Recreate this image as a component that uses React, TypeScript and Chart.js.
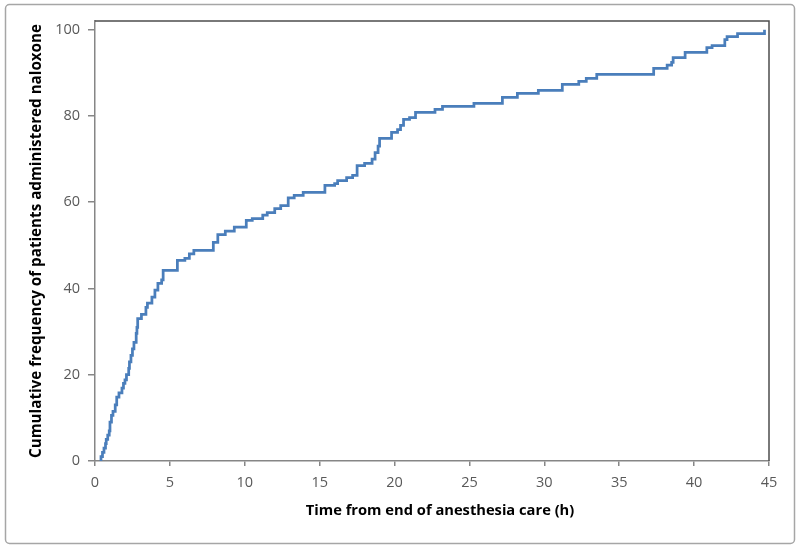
import React, { useEffect, useRef } from 'react';
import { Chart, registerables } from 'chart.js';

Chart.register(...registerables);

const timeHours = [
  0.33, 0.4, 0.5, 0.6, 0.7, 0.75, 0.85, 0.95, 1.0, 1.1, 1.2, 1.35, 1.45, 1.6, 1.8, 1.9,
  2.0, 2.1, 2.25, 2.3, 2.4, 2.5, 2.6, 2.75, 2.8, 2.85, 3.1, 3.4, 3.5, 3.8, 4.0, 4.2,
  4.45, 4.55, 5.5, 6.0, 6.3, 6.6, 7.9, 8.2, 8.7, 9.3, 10.1, 10.5, 11.2, 11.5, 12.0,
  12.4, 12.9, 13.3, 13.9, 15.35, 16.0, 16.2, 16.8, 17.2, 17.5, 18.0, 18.5, 18.7, 18.9,
  19.0, 19.8, 20.2, 20.4, 20.6, 21.0, 21.4, 22.7, 23.2, 25.3, 27.2, 28.2, 29.6, 31.2,
  32.3, 32.8, 33.5, 37.3, 38.2, 38.5, 38.6, 39.4, 40.85, 41.2, 42.05, 42.2, 42.9, 44.7,
];
const cumulativePct = [
  0, 1, 2, 3, 4, 5, 6, 7, 9, 10.6, 11.5, 13, 14.8, 15.8, 16.9, 18,
  18.8, 20, 21.5, 23, 24.5, 26, 27.5, 29.6, 31, 33, 34, 35.6, 36.6, 38, 39.6, 41.2,
  42, 44.2, 46.5, 47, 48, 48.8, 50.7, 52.5, 53.3, 54.2, 55.8, 56.2, 57, 57.6, 58.5,
  59.2, 61, 61.6, 62.3, 63.9, 64.3, 65, 65.7, 66.2, 68.5, 69, 70, 71.5, 73,
  74.8, 76.2, 76.8, 77.8, 79.2, 79.6, 80.8, 81.5, 82.2, 82.9, 84.3, 85.2, 85.9, 87.3,
  88, 88.7, 89.6, 91, 91.8, 92.4, 93.5, 94.7, 95.8, 96.3, 97.7, 98.4, 99.1, 100,
];
const xTickValues = [0, 5, 10, 15, 20, 25, 30, 35, 40, 45];
const yTickValues = [0, 20, 40, 60, 80, 100];
const xTitle = 'Time from end of anesthesia care (h)';
const yTitle = 'Cumulative frequency of patients administered naloxone';

export default function App() {
  const ref = useRef<HTMLCanvasElement>(null);

  useEffect(() => {
    if (!ref.current) return;
    const framePlugin = {
      id: 'frame',
      beforeDraw(chart: any) {
        const ctx = chart.ctx;
        ctx.save();
        ctx.fillStyle = '#ffffff';
        ctx.fillRect(0, 0, chart.width, chart.height);
        ctx.strokeStyle = '#a6a6a6';
        ctx.lineWidth = 1.5;
        const x = 5.5, y = 4.5, w = 789, h = 539, r = 4;
        ctx.beginPath();
        ctx.moveTo(x + r, y);
        ctx.lineTo(x + w - r, y);
        ctx.arcTo(x + w, y, x + w, y + r, r);
        ctx.lineTo(x + w, y + h - r);
        ctx.arcTo(x + w, y + h, x + w - r, y + h, r);
        ctx.lineTo(x + r, y + h);
        ctx.arcTo(x, y + h, x, y + h - r, r);
        ctx.lineTo(x, y + r);
        ctx.arcTo(x, y, x + r, y, r);
        ctx.closePath();
        ctx.stroke();
        ctx.restore();
      },
      afterDraw(chart: any) {
        const ctx = chart.ctx;
        const a = chart.chartArea;
        ctx.save();
        ctx.strokeStyle = '#4d4d4d';
        ctx.lineWidth = 1.5;
        ctx.beginPath();
        ctx.moveTo(a.left, a.top);
        ctx.lineTo(a.right, a.top);
        ctx.lineTo(a.right, a.bottom);
        ctx.stroke();
        // x-axis title, placed as in the reference (slightly right of centre)
        ctx.fillStyle = '#000000';
        ctx.font = 'bold 14.7px "Open Sans"';
        ctx.textAlign = 'center';
        ctx.textBaseline = 'middle';
        ctx.fillText(xTitle, (a.left + a.right) / 2 + 8, a.bottom + 50);
        ctx.restore();
      },
    };

    const chart = new Chart(ref.current, {
      type: 'line',
      data: {
        datasets: [
          {
            data: timeHours.map((t, i) => ({ x: t, y: cumulativePct[i] })),
            stepped: 'before',
            borderColor: '#4A7EBB',
            borderWidth: 2.75,
            pointRadius: 0,
            fill: false,
          },
        ],
      },
      options: {
        animation: false,
        responsive: false,
        devicePixelRatio: 1,
        layout: { padding: { left: 0, top: 21, right: 31, bottom: 0 } },
        plugins: { legend: { display: false }, tooltip: { enabled: false } },
        scales: {
          x: {
            type: 'linear',
            min: 0,
            max: 45,
            afterBuildTicks: (s: any) => {
              s.ticks = xTickValues.map((v) => ({ value: v }));
            },
            afterFit: (s: any) => {
              s.height = 88;
            },
            grid: { drawOnChartArea: false, drawTicks: true, tickLength: 5, color: '#868686', lineWidth: 1.5 },
            border: { color: '#868686', width: 1.5 },
            ticks: {
              color: '#595959',
              font: { family: 'Open Sans', size: 14.5 },
              padding: 8,
              maxRotation: 0,
              autoSkip: false,
            },
            title: { display: false },
          },
          y: {
            type: 'linear',
            min: 0,
            max: 102,
            afterBuildTicks: (s: any) => {
              s.ticks = yTickValues.map((v) => ({ value: v }));
            },
            afterFit: (s: any) => {
              s.width = 95;
            },
            grid: { drawOnChartArea: false, drawTicks: true, tickLength: 7, color: '#868686', lineWidth: 1.5 },
            border: { color: '#868686', width: 1.5 },
            ticks: {
              color: '#595959',
              font: { family: 'Open Sans', size: 14.5 },
              padding: 8,
              autoSkip: false,
            },
            title: {
              display: true,
              text: yTitle,
              color: '#000000',
              font: { family: 'Open Sans', size: 15.2, weight: 'bold' },
              padding: { top: 28, bottom: 0 },
            },
          },
        },
      },
      plugins: [framePlugin],
    } as any);

    return () => chart.destroy();
  }, []);

  return (
    <div style={{ position: 'absolute', left: 0, top: 0, width: 800, height: 549 }}>
      <canvas ref={ref} width={800} height={549} style={{ width: 800, height: 549, display: 'block' }} />
    </div>
  );
}
